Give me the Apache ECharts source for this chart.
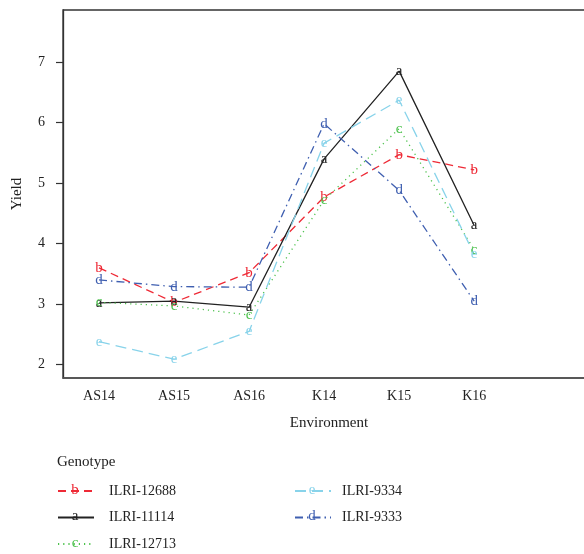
<!DOCTYPE html>
<html>
<head>
<meta charset="utf-8">
<script src="https://cdn.jsdelivr.net/npm/echarts@6/dist/echarts.min.js"></script>
<style>html,body{margin:0;padding:0;background:#fff;}#c{width:584px;height:554px;}</style>
</head>
<body>
<div id="c"></div>
<script>
var environments = ['AS14', 'AS15', 'AS16', 'K14', 'K15', 'K16'];
var yTicks = [2, 3, 4, 5, 6, 7];
var genotypes = ['ILRI-12688', 'ILRI-11114', 'ILRI-12713', 'ILRI-9334', 'ILRI-9333'];
var letters = ['b', 'a', 'c', 'e', 'd'];
var yield12688 = [3.60, 3.03, 3.52, 4.77, 5.47, 5.22];
var yield11114 = [3.02, 3.05, 2.95, 5.40, 6.85, 4.30];
var yield12713 = [3.03, 2.97, 2.82, 4.72, 5.90, 3.90];
var yield9334  = [2.38, 2.09, 2.55, 5.66, 6.37, 3.82];
var yield9333  = [3.40, 3.29, 3.28, 5.98, 4.88, 3.05];

var values = [yield12688, yield11114, yield12713, yield9334, yield9333];
var colors = ['#ee2a36', '#222222', '#4dc24d', '#88d3ea', '#3f5fb0'];
var dashes = [[8, 5], 'solid', [1.2, 4], [11, 6], [8, 4, 1.5, 4]];
var font = '"Liberation Serif", "DejaVu Serif", serif';

var series = genotypes.map(function (g, k) {
  return {
    name: g,
    type: 'line',
    data: values[k].map(function (v, i) { return [i + 1, v]; }),
    symbol: 'circle',
    symbolSize: 1,
    itemStyle: { color: 'rgba(0,0,0,0)', borderWidth: 0 },
    lineStyle: { color: colors[k], width: 1.3, type: dashes[k] },
    label: {
      show: true, position: 'inside', formatter: letters[k],
      color: colors[k], fontFamily: font, fontSize: 15
    },
    emphasis: { disabled: true },
    animation: false
  };
});

function legendOpt(left, items, pad) {
  return {
    left: left, top: 484, data: items,
    orient: 'vertical',
    itemWidth: 36,
    itemHeight: 14,
    itemGap: 12.5,
    padding: 0,
    height: 70,
    textStyle: { fontFamily: font, fontSize: 14, lineHeight: 14, color: '#222', padding: [0, 0, 0, pad] },
    selectedMode: false
  };
}

var chart = echarts.init(document.getElementById('c'), null, { renderer: 'canvas' });
chart.setOption({
  animation: false,
  grid: { left: 63, top: 10, bottom: 176, right: -11, outerBoundsMode: 'none', containLabel: false, show: true, borderColor: '#333', borderWidth: 1.3, backgroundColor: 'transparent' },
  xAxis: {
    type: 'value', min: 0.52, max: 7.61,
    name: 'Environment', nameLocation: 'middle', nameGap: 38,
    nameTextStyle: { fontFamily: font, fontSize: 15, color: '#222' },
    axisLine: { show: true, lineStyle: { color: '#555', width: 1.6 } },
    axisTick: { show: false },
    splitLine: { show: false },
    axisLabel: {
      customValues: environments.map(function (e, i) { return i + 1; }),
      formatter: function (v) { return environments[Math.round(v) - 1] || ''; },
      fontFamily: font, fontSize: 14, color: '#222', margin: 11
    }
  },
  yAxis: {
    type: 'value', min: 1.78, max: 7.86,
    name: 'Yield', nameLocation: 'middle', nameGap: 38,
    nameTextStyle: { fontFamily: font, fontSize: 15, color: '#222' },
    axisLine: { show: true, lineStyle: { color: '#333', width: 1.3 } },
    axisTick: { show: true, length: 7, customValues: yTicks, lineStyle: { color: '#333', width: 1.2 } },
    splitLine: { show: false },
    axisLabel: { customValues: yTicks, fontFamily: font, fontSize: 14, color: '#222', margin: 18 }
  },
  legend: [
    legendOpt(57, genotypes.slice(0, 3), 10),
    legendOpt(294, genotypes.slice(3), 6)
  ],
  graphic: [
    { type: 'text', left: 57, top: 455, style: { text: 'Genotype', fontFamily: font, fontSize: 15, fill: '#222' } }
  ].concat(letters.map(function (l, k) {
    var col = k < 3 ? 0 : 1;
    var row = k < 3 ? k : k - 3;
    return {
      type: 'text', x: col ? 312 : 75, y: 490 + row * 26.5,
      style: { text: l, fontFamily: font, fontSize: 15, fill: colors[k], align: 'center', verticalAlign: 'middle' }
    };
  })),
  series: series
});
</script>
</body>
</html>
